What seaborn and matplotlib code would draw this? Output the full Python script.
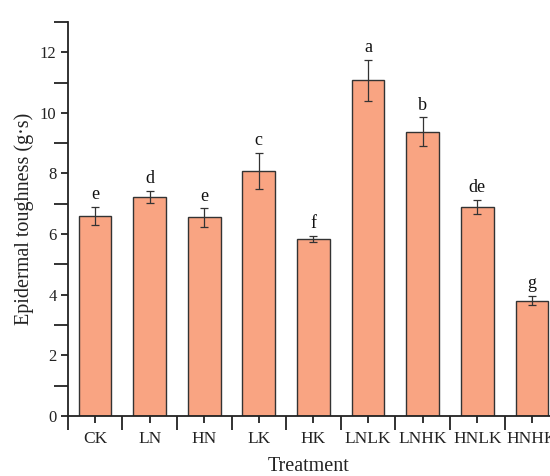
import matplotlib
matplotlib.use("Agg")
import matplotlib.pyplot as plt
from matplotlib.ticker import MultipleLocator, FixedLocator
import seaborn as sns
import pandas as pd

treatments = ["CK", "LN", "HN", "LK", "HK", "LNLK", "LNHK", "HNLK", "HNHK"]
toughness = [6.61, 7.22, 6.55, 8.09, 5.85, 11.07, 9.38, 6.90, 3.81]
sd = [0.30, 0.20, 0.30, 0.60, 0.10, 0.68, 0.47, 0.23, 0.16]
letters = ["e", "d", "e", "c", "f", "a", "b", "de", "g"]

df = pd.DataFrame({"Treatment": treatments, "Toughness": toughness})

sns.set_style("ticks")
plt.rcParams["font.family"] = ["Liberation Serif", "DejaVu Serif"]

fig = plt.figure(figsize=(5.5, 4.76), dpi=100)
ax = fig.add_axes([0.123, 0.126, 0.877, 0.828])

sns.barplot(data=df, x="Treatment", y="Toughness", color="#F9A482",
            saturation=1, width=0.6, edgecolor="#333333", linewidth=1.0,
            errorbar=None, ax=ax)

xpos = list(range(len(treatments)))
ax.errorbar(xpos, toughness, yerr=sd, fmt="none", ecolor="#333333",
            elinewidth=0.9, capsize=2.7, capthick=0.9)

for x, v, e, lab in zip(xpos, toughness, sd, letters):
    ax.text(x, v + e + 0.12, lab, ha="center", va="bottom", fontsize=13,
            color="#111111")

ax.set_xlim(-0.5, 8.33)
ax.set_ylim(0, 13)
ax.yaxis.set_major_locator(MultipleLocator(2))
ax.yaxis.set_minor_locator(FixedLocator([1, 3, 5, 7, 9, 11, 13]))
ax.xaxis.set_minor_locator(FixedLocator([i + 0.5 for i in range(-1, 9)]))

for side in ["top", "right"]:
    ax.spines[side].set_visible(False)
for side in ["left", "bottom"]:
    ax.spines[side].set_linewidth(1.3)
    ax.spines[side].set_color("#222222")

ax.tick_params(axis="both", which="major", length=5, width=1.3,
               color="#222222", labelcolor="#222222")
ax.tick_params(axis="both", which="minor", length=10, width=1.3,
               color="#222222")
ax.tick_params(axis="y", which="major", labelsize=12, pad=3)
ax.tick_params(axis="x", which="major", labelsize=12.5, pad=6)

ax.set_xlabel("Treatment", fontsize=14.5, labelpad=7, color="#222222")
ax.set_ylabel("Epidermal toughness (g·s)", fontsize=14.5, labelpad=4,
              color="#222222")

fig.savefig("out.png", dpi=100)
